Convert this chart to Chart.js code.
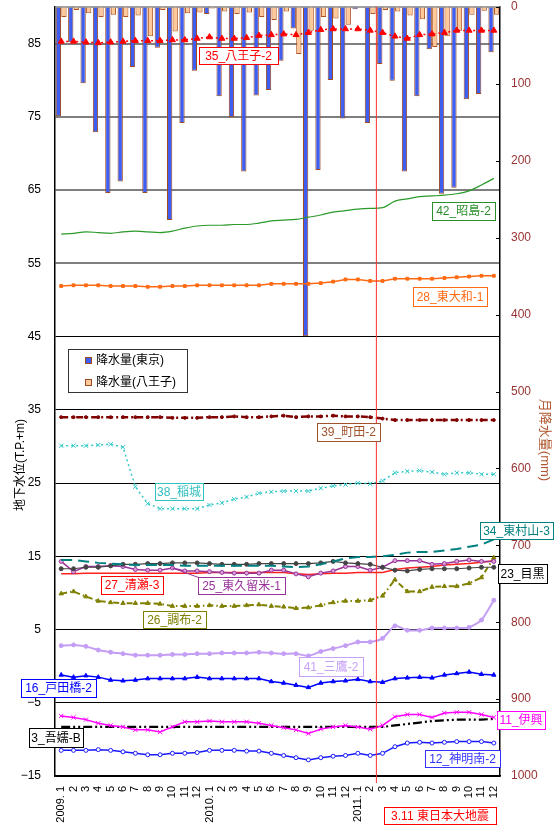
<!DOCTYPE html>
<html>
<head>
<meta charset="utf-8">
<script src="https://cdn.jsdelivr.net/npm/chart.js@4.4.1/dist/chart.umd.min.js"></script>
<style>
body{margin:0;background:#fff;}
</style>
</head>
<body>
<canvas id="canvas" width="558" height="825"></canvas>
<script>
// 月 (2009.1 - 2011.12)
var months = ['2009. 1','2','3','4','5','6','7','8','9','10','11','12',
	'2010. 1','2','3','4','5','6','7','8','9','10','11','12',
	'2011. 1','2','3','4','5','6','7','8','9','10','11','12'];
var leftTicks = [-15,-5,5,15,25,35,45,55,65,75,85];

// 月降水量 (mm)
var rainTokyo = [142,46,99,163,242,227,78,242,53,277,151,83,
	9,116,143,214,115,108,70,28,428,212,95,145,
	3,151,74,96,214,116,55,243,235,120,113,59];
var rainHachioji = [13,4,8,13,10,13,11,38,4,32,8,7,
	2,6,9,7,13,17,6,61,31,13,15,23,
	0.5,9,4,6,11,16,52,38,31,10,5,10];

// 地下水位 (T.P.+m)
var w35 = [85.3,85.3,85.2,85.1,85.2,85.3,85.4,85.4,85.4,85.5,85.5,85.7,
	85.9,85.7,85.7,85.8,86.1,86.2,86.3,86.2,86.5,86.9,87.0,87.0,
	87.0,86.8,86.5,86.0,85.7,86.2,86.3,86.5,86.8,86.8,86.8,86.8];
var w42 = [59.0,59.1,59.3,59.2,59.1,59.3,59.4,59.3,59.2,59.4,59.8,60.1,
	60.2,60.2,60.3,60.3,60.5,60.8,60.9,61.0,61.3,61.6,62.0,62.2,
	62.4,62.5,62.6,63.5,63.8,64.1,64.2,64.3,64.5,64.9,65.7,66.6];
var w28 = [51.9,52.0,52.0,52.0,51.9,51.9,51.9,51.8,51.8,51.9,51.9,52.0,
	52.0,52.0,52.0,52.0,52.0,52.2,52.2,52.2,52.2,52.3,52.5,52.8,
	52.8,52.6,52.6,52.9,52.9,52.9,52.9,53.0,53.1,53.2,53.3,53.3];
var w39 = [34.0,34.0,34.0,34.0,34.0,34.0,34.0,34.0,34.0,33.9,33.9,33.9,
	34.0,34.0,34.1,34.0,34.0,34.1,34.2,34.0,34.1,34.1,34.2,34.1,
	34.1,34.0,33.8,33.6,33.6,33.6,33.6,33.6,33.6,33.6,33.6,33.6];
var w38 = [30.1,30.1,30.1,30.2,30.3,29.9,24.5,22.2,21.5,21.5,21.5,21.5,
	22.0,22.3,22.8,23.1,23.6,23.8,23.9,23.9,23.9,24.3,24.6,24.8,
	25.0,24.9,25.3,26.4,26.6,26.7,26.5,26.2,26.4,26.4,26.2,26.2];
var w34 = [14.5,14.5,14.3,14.1,14.0,13.9,13.8,13.8,13.8,13.8,13.7,13.7,
	13.7,13.7,13.7,13.7,13.7,13.7,13.6,13.5,13.6,13.9,14.3,14.7,
	14.9,14.9,15.0,15.2,15.5,15.6,15.6,15.8,16.0,16.3,16.6,17.3];
var w23 = [13.3,13.3,13.5,13.5,13.7,13.9,13.9,14.0,14.0,14.1,14.1,14.1,
	14.0,13.9,13.9,13.9,14.0,14.0,14.0,14.0,14.0,14.1,14.3,14.1,
	14.0,13.9,13.5,13.1,13.0,13.2,13.3,13.3,13.3,13.4,13.5,13.5];
var w25 = [14.3,12.9,13.6,13.6,13.7,13.6,13.2,13.1,13.1,13.4,13.0,13.0,
	12.9,12.8,12.7,12.7,12.7,13.1,13.1,12.6,12.2,12.7,13.0,13.6,
	13.6,13.1,13.5,14.4,14.4,14.4,13.9,14.0,14.3,14.5,14.3,14.3];
var w27 = [12.6,12.6,12.7,12.7,12.7,12.7,12.7,12.7,12.7,12.7,12.7,12.7,
	12.8,12.8,12.8,12.8,12.8,12.8,12.8,12.6,12.5,12.6,12.7,12.7,
	12.8,12.8,12.8,13.2,13.4,13.5,13.6,13.8,13.9,14.0,14.2,14.4];
var w26 = [9.9,10.2,9.5,8.9,8.7,8.6,8.6,8.6,8.5,8.2,8.2,8.2,
	8.3,8.2,8.2,8.3,8.4,8.2,8.1,7.9,8.0,8.3,8.7,8.9,
	8.9,9.0,9.6,11.8,10.2,10.2,10.8,10.9,10.9,11.3,12.1,14.8];
var w41 = [2.8,2.9,2.7,2.2,1.9,1.7,1.5,1.5,1.5,1.6,1.6,1.7,
	1.7,1.8,1.8,1.8,1.9,1.8,1.7,1.7,1.4,2.0,2.4,2.8,
	3.3,3.3,3.8,5.5,4.9,4.9,5.2,5.2,5.2,5.3,6.3,9.0];
var w16 = [-1.2,-1.5,-1.3,-1.5,-1.9,-2.0,-1.9,-1.7,-1.7,-1.7,-1.7,-1.5,
	-1.7,-1.7,-1.7,-1.7,-1.7,-2.1,-2.3,-2.6,-2.9,-2.3,-2.1,-2.0,
	-1.8,-2.1,-2.2,-1.7,-1.6,-1.5,-1.6,-1.2,-1.0,-0.8,-1.1,-1.2];
var w11 = [-6.8,-7.0,-7.3,-7.8,-8.1,-8.3,-8.7,-8.7,-9.0,-8.3,-7.6,-7.6,
	-7.5,-7.6,-7.6,-7.6,-7.8,-8.1,-8.4,-8.7,-9.2,-8.6,-8.3,-8.1,
	-8.3,-8.6,-8.1,-6.9,-6.6,-6.6,-7.0,-6.4,-6.3,-6.3,-6.6,-7.0];
var w3 = [-8.3,-8.3,-8.3,-8.3,-8.3,-8.3,-8.3,-8.3,-8.3,-8.3,-8.3,-8.3,
	-8.3,-8.3,-8.3,-8.3,-8.3,-8.3,-8.3,-8.3,-8.3,-8.3,-8.3,-8.3,
	-8.3,-8.3,-8.3,-8.1,-7.9,-7.7,-7.5,-7.4,-7.3,-7.3,-7.3,-7.2];
var w12 = [-11.5,-11.5,-11.5,-11.4,-11.5,-11.7,-11.9,-12.1,-12.1,-11.9,-11.9,-11.8,
	-11.5,-11.5,-11.5,-11.6,-11.6,-11.9,-12.2,-12.5,-12.8,-12.5,-12.3,-12.2,
	-11.9,-12.2,-11.9,-11.0,-10.5,-10.4,-10.5,-10.4,-10.3,-10.3,-10.3,-10.5];

var FONT = '"Liberation Sans", "Noto Sans CJK JP", sans-serif';

// 観測井ラベル
var tags = [
	{text:'35_八王子-2', x:199, y:47, w:79, h:17, color:'#ff0000'},
	{text:'42_昭島-2', x:432, y:202, w:63, h:18, color:'#2a8f2a'},
	{text:'28_東大和-1', x:413, y:287, w:74, h:19, color:'#ff6a13'},
	{text:'39_町田-2', x:317, y:423, w:63, h:18, color:'#a0522d'},
	{text:'38_稲城', x:155, y:483, w:48, h:17, color:'#33c0c0'},
	{text:'34_東村山-3', x:480, y:522, w:73, h:17, color:'#008080'},
	{text:'23_目黒', x:498, y:564, w:49, h:19, color:'#000000'},
	{text:'27_清瀬-3', x:101, y:576, w:62, h:18, color:'#ff0000'},
	{text:'25_東久留米-1', x:198, y:577, w:87, h:17, color:'#993399'},
	{text:'26_調布-2', x:143, y:611, w:63, h:17, color:'#808000'},
	{text:'41_三鷹-2', x:299, y:657, w:64, h:19, color:'#c8a0f8'},
	{text:'16_戸田橋-2', x:21, y:679, w:75, h:18, color:'#0000ff'},
	{text:'11_伊興', x:497, y:711, w:48, h:18, color:'#ff00ff'},
	{text:'3_吾嬬-B', x:29, y:728, w:54, h:19, color:'#000000'},
	{text:'12_神明南-2', x:425, y:750, w:75, h:17, color:'#3333ff'},
	{text:'3.11 東日本大地震', x:384, y:807, w:112, h:17, color:'#ff0000'}
];

function line(label, data, color, opt) {
	var ds = {
		type: 'line', label: label, data: data, yAxisID: 'y', order: 0,
		borderColor: color, backgroundColor: color, borderWidth: 1.5,
		pointRadius: 0, pointBorderColor: color, pointBackgroundColor: color,
		pointBorderWidth: 1, fill: false, tension: 0
	};
	for (var k in opt) ds[k] = opt[k];
	return ds;
}

// 目盛ラベルの余白で描画域が下がらないように
function noPad(s) {
	s.paddingTop = 0;
	s.paddingBottom = 0;
}

var overlay = {
	id: 'overlay',
	beforeDatasetsDraw: function(chart) {
		var ctx = chart.ctx, a = chart.chartArea;
		ctx.save();
		ctx.strokeStyle = '#808080';
		ctx.lineWidth = 1.5;
		ctx.beginPath();
		ctx.moveTo(a.left, a.top);
		ctx.lineTo(a.right, a.top);
		ctx.stroke();
		ctx.restore();
	},
	afterDatasetsDraw: function(chart) {
		var ctx = chart.ctx, a = chart.chartArea;
		var xs = chart.scales.x, y2 = chart.scales.y2;
		ctx.save();
		// 3.11
		var xq = (xs.getPixelForValue(25) + xs.getPixelForValue(26)) / 2;
		ctx.strokeStyle = '#ff3030';
		ctx.lineWidth = 1;
		ctx.beginPath();
		ctx.moveTo(xq, a.top);
		ctx.lineTo(xq, a.bottom + 7);
		ctx.stroke();
		// 右軸の内向き目盛
		ctx.strokeStyle = '#000';
		y2.ticks.forEach(function(t) {
			var py = Math.round(y2.getPixelForValue(t.value)) + 0.5;
			ctx.beginPath();
			ctx.moveTo(a.right - 4, py);
			ctx.lineTo(a.right, py);
			ctx.stroke();
		});
		// 引出線
		ctx.strokeStyle = '#993399';
		ctx.beginPath();
		ctx.moveTo(xs.getPixelForValue(9), chart.scales.y.getPixelForValue(w25[9]));
		ctx.lineTo(200, 578);
		ctx.stroke();
		// ラベル
		ctx.font = '12px ' + FONT;
		ctx.textAlign = 'center';
		ctx.textBaseline = 'middle';
		tags.forEach(function(t) {
			ctx.fillStyle = '#fff';
			ctx.fillRect(t.x, t.y, t.w, t.h);
			ctx.strokeStyle = t.color;
			ctx.lineWidth = 1;
			ctx.strokeRect(t.x + 0.5, t.y + 0.5, t.w, t.h);
			ctx.fillStyle = t.color;
			ctx.fillText(t.text, t.x + t.w / 2, t.y + t.h / 2 + 1);
		});
		// 凡例
		ctx.fillStyle = '#fff';
		ctx.fillRect(68, 349, 119, 43);
		ctx.strokeStyle = '#333';
		ctx.strokeRect(68.5, 349.5, 119, 43);
		ctx.lineWidth = 1;
		ctx.fillStyle = '#3d5ef0';
		ctx.fillRect(85, 357, 7, 7);
		ctx.strokeStyle = '#9c4a22';
		ctx.strokeRect(85.5, 357.5, 6, 6);
		ctx.fillStyle = '#ffc898';
		ctx.fillRect(85, 379, 7, 7);
		ctx.strokeRect(85.5, 379.5, 6, 6);
		ctx.fillStyle = '#000';
		ctx.textAlign = 'left';
		ctx.fillText('降水量(東京)', 96, 361);
		ctx.fillText('降水量(八王子)', 96, 383);
		ctx.restore();
	},
	afterDraw: function(chart) {
		var ctx = chart.ctx;
		ctx.save();
		ctx.textAlign = 'center';
		ctx.textBaseline = 'middle';
		ctx.font = '12px ' + FONT;
		ctx.fillStyle = '#000';
		ctx.translate(21, 465);
		ctx.rotate(-Math.PI / 2);
		ctx.fillText('地下水位(T.P.+m)', 0, 0);
		ctx.restore();
		ctx.save();
		ctx.textAlign = 'center';
		ctx.textBaseline = 'middle';
		ctx.font = '13px ' + FONT;
		ctx.fillStyle = '#b0562d';
		ctx.translate(545, 440);
		ctx.rotate(Math.PI / 2);
		ctx.fillText('月降水量(mm)', 0, 0);
		ctx.restore();
	}
};

var ctx = document.getElementById('canvas').getContext('2d');
window.myChart = new Chart(ctx, {
	type: 'bar',
	data: {
		labels: months,
		datasets: [
			line('35_八王子-2', w35, '#ff0000', {borderDash:[2,3], pointStyle:'triangle', pointRadius:3.5}),
			line('42_昭島-2', w42, '#2a9a2a', {borderWidth:1.2, cubicInterpolationMode:'monotone'}),
			line('28_東大和-1', w28, '#ff6a13', {pointStyle:'rect', pointRadius:2}),
			line('39_町田-2', w39, '#800000', {borderWidth:2.5, borderDash:[7,3,2,3], pointRadius:1.5}),
			line('38_稲城', w38, '#33c8c8', {borderDash:[2,3], pointStyle:'crossRot', pointRadius:3}),
			line('34_東村山-3', w34, '#008080', {borderWidth:2, borderDash:[11,6]}),
			line('23_目黒', w23, '#444444', {borderWidth:1.2, pointRadius:2}),
			line('25_東久留米-1', w25, '#993399', {pointRadius:2, pointBackgroundColor:'#d9a0d9'}),
			line('27_清瀬-3', w27, '#ff2020'),
			line('26_調布-2', w26, '#808000', {borderWidth:2, borderDash:[6,3,1.5,3], pointStyle:'triangle', pointRadius:2.5}),
			line('41_三鷹-2', w41, '#c49ef4', {borderWidth:2, pointRadius:2, tension:0.2}),
			line('16_戸田橋-2', w16, '#0000ff', {pointStyle:'triangle', pointRadius:2.5}),
			line('11_伊興', w11, '#ff00ff', {pointStyle:'crossRot', pointRadius:3}),
			line('3_吾嬬-B', w3, '#000000', {borderWidth:2.2, borderDash:[9,3,2,3,2,3]}),
			line('12_神明南-2', w12, '#1a1aff', {pointRadius:2, pointBackgroundColor:'#ffffff'}),
			{
				label: '降水量(東京)', data: rainTokyo, yAxisID: 'y2', order: 10,
				backgroundColor: '#3d5ef0', borderColor: '#9c4a22', borderWidth: 1,
				categoryPercentage: 0.9, barPercentage: 0.95
			},
			{
				label: '降水量(八王子)', data: rainHachioji, yAxisID: 'y2', order: 10,
				backgroundColor: '#ffc898', borderColor: '#b0501e', borderWidth: 1,
				categoryPercentage: 0.9, barPercentage: 0.95
			}
		]
	},
	options: {
		responsive: false,
		devicePixelRatio: 1,
		animation: false,
		events: [],
		layout: {autoPadding: false, padding: {top: 7, left: 0, right: 0, bottom: 0}},
		plugins: {legend: {display: false}, tooltip: {enabled: false}},
		scales: {
			x: {
				offset: true,
				grid: {display: false},
				border: {color: '#000', width: 1.5},
				ticks: {autoSkip: false, minRotation: 90, maxRotation: 90, padding: 2, color: '#000', font: {size: 11, family: FONT}},
				afterFit: function(s) { s.height = 49; }
			},
			y: {
				position: 'left',
				min: -15,
				max: 90,
				afterBuildTicks: function(s) { s.ticks = leftTicks.map(function(v) { return {value: v}; }); },
				grid: {
					drawTicks: false,
					color: function(c) { return c.tick && c.tick.value >= 55 ? '#7f7f7f' : '#000'; },
					lineWidth: function(c) { return c.tick && c.tick.value >= 55 ? 2 : 1; }
				},
				border: {color: '#000', width: 1.5},
				ticks: {
					padding: 14, color: '#000', font: {size: 12, family: FONT},
					callback: function(v) { return v < 0 ? '\u2212' + Math.abs(v) : v; }
				},
				afterFit: function(s) { s.width = 55; noPad(s); }
			},
			y2: {
				position: 'right',
				reverse: true,
				min: 0,
				max: 1000,
				grid: {drawOnChartArea: false, drawTicks: false},
				border: {color: '#000', width: 1.5},
				ticks: {stepSize: 100, padding: 11, color: '#993333', font: {size: 12, family: FONT},
					callback: function(v) { return String(v); }},
				afterFit: function(s) { s.width = 58; noPad(s); }
			}
		}
	},
	plugins: [overlay]
});
</script>
</body>
</html>
